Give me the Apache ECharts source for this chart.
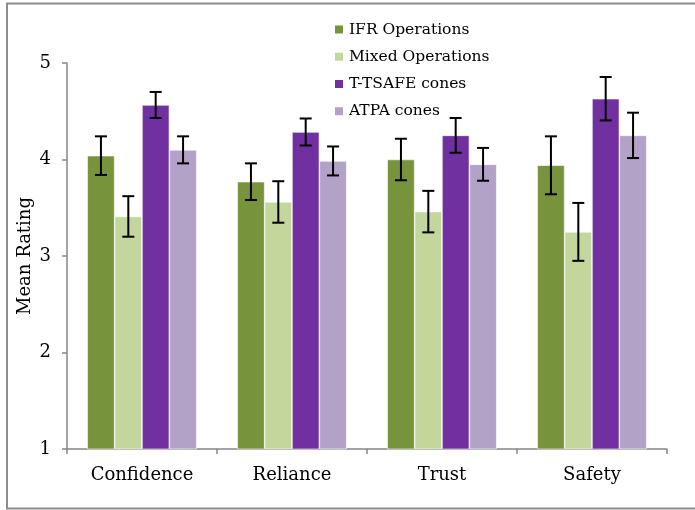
<!DOCTYPE html>
<html>
<head>
<meta charset="utf-8">
<script src="https://cdn.jsdelivr.net/npm/echarts@6/dist/echarts.min.js"></script>
<style>
  html, body { margin: 0; padding: 0; background: #fff; }
  #chart { width: 695px; height: 510px; }
</style>
</head>
<body>
<div id="chart"></div>
<script>
// categories and series
const categories = ['Confidence', 'Reliance', 'Trust', 'Safety']
const seriesNames = ['IFR Operations', 'Mixed Operations', 'T-TSAFE cones', 'ATPA cones']
const ifrValues = [4.04, 3.77, 4.00, 3.94]
const ifrErrors = [0.20, 0.19, 0.215, 0.30]
const mixedValues = [3.41, 3.56, 3.46, 3.25]
const mixedErrors = [0.21, 0.215, 0.215, 0.30]
const tsafeValues = [4.565, 4.285, 4.25, 4.63]
const tsafeErrors = [0.135, 0.14, 0.18, 0.225]
const atpaValues = [4.10, 3.985, 3.95, 4.25]
const atpaErrors = [0.14, 0.15, 0.17, 0.235]
const yTicks = [1, 2, 3, 4, 5]

const colors = ['#77933C', '#C3D69B', '#7030A0', '#B3A2C7']
const allValues = [ifrValues, mixedValues, tsafeValues, atpaValues]
const allErrors = [ifrErrors, mixedErrors, tsafeErrors, atpaErrors]
const gapRatio = 0.27 // barCategoryGap
const font = 'DejaVu Serif'
const axisGray = '#868686'

const chart = echarts.init(document.getElementById('chart'))

// bar series
const barSeries = seriesNames.map((name, i) => ({
  name: name,
  type: 'bar',
  data: allValues[i],
  barGap: 0,
  barCategoryGap: gapRatio * 100 + '%',
  itemStyle: { color: colors[i], borderColor: '#ffffff', borderWidth: 0.6 },
  z: 2
}))

// error bars drawn with custom series on top of each bar
const errorSeries = seriesNames.map((name, i) => ({
  type: 'custom',
  data: categories.map((c, k) => [k, allValues[i][k] - allErrors[i][k], allValues[i][k] + allErrors[i][k]]),
  renderItem: (params, api) => {
    const band = api.size([1, 0])[0]
    const barW = band * (1 - gapRatio) / seriesNames.length
    const offset = (i - (seriesNames.length - 1) / 2) * barW
    const low = api.coord([api.value(0), api.value(1)])
    const high = api.coord([api.value(0), api.value(2)])
    const x = low[0] + offset
    const cap = 6
    const style = { stroke: '#000', lineWidth: 2 }
    return {
      type: 'group',
      children: [
        { type: 'line', shape: { x1: x, y1: high[1], x2: x, y2: low[1] }, style: style },
        { type: 'line', shape: { x1: x - cap, y1: high[1], x2: x + cap, y2: high[1] }, style: style },
        { type: 'line', shape: { x1: x - cap, y1: low[1], x2: x + cap, y2: low[1] }, style: style }
      ]
    }
  },
  z: 5,
  silent: true
}))

const option = {
  animation: false,
  textStyle: { fontFamily: font },
  graphic: [{
    type: 'rect',
    shape: { x: 7, y: 3.5, width: 720, height: 505 },
    style: { fill: 'none', stroke: '#8c8c8c', lineWidth: 2 }
  }],
  legend: {
    data: seriesNames,
    orient: 'vertical',
    left: 328,
    top: 16,
    itemWidth: 10,
    itemHeight: 10,
    itemGap: 10,
    icon: 'rect',
    textStyle: { fontFamily: font, fontSize: 15.5, color: '#000', lineHeight: 17.2 }
  },
  grid: { left: 67, right: 28, top: 63, bottom: 61 },
  xAxis: {
    type: 'category',
    data: categories,
    axisLine: { lineStyle: { color: axisGray, width: 1.5 } },
    axisTick: { show: true, length: 5, alignWithLabel: false, lineStyle: { color: axisGray, width: 1.5 } },
    axisLabel: { fontFamily: font, fontSize: 18, color: '#000', margin: 17 }
  },
  yAxis: {
    type: 'value',
    min: yTicks[0],
    max: yTicks[yTicks.length - 1],
    interval: 1,
    name: 'Mean Rating',
    nameLocation: 'middle',
    nameGap: 33,
    nameMoveOverlap: false,
    nameTextStyle: { fontFamily: font, fontSize: 18, color: '#000' },
    axisLine: { show: true, lineStyle: { color: axisGray, width: 1.5 } },
    axisTick: { show: true, length: 5, lineStyle: { color: axisGray, width: 1.5 } },
    splitLine: { show: false },
    axisLabel: { fontFamily: font, fontSize: 18, color: '#000', margin: 16 }
  },
  series: barSeries.concat(errorSeries)
}

chart.setOption(option)
</script>
</body>
</html>
